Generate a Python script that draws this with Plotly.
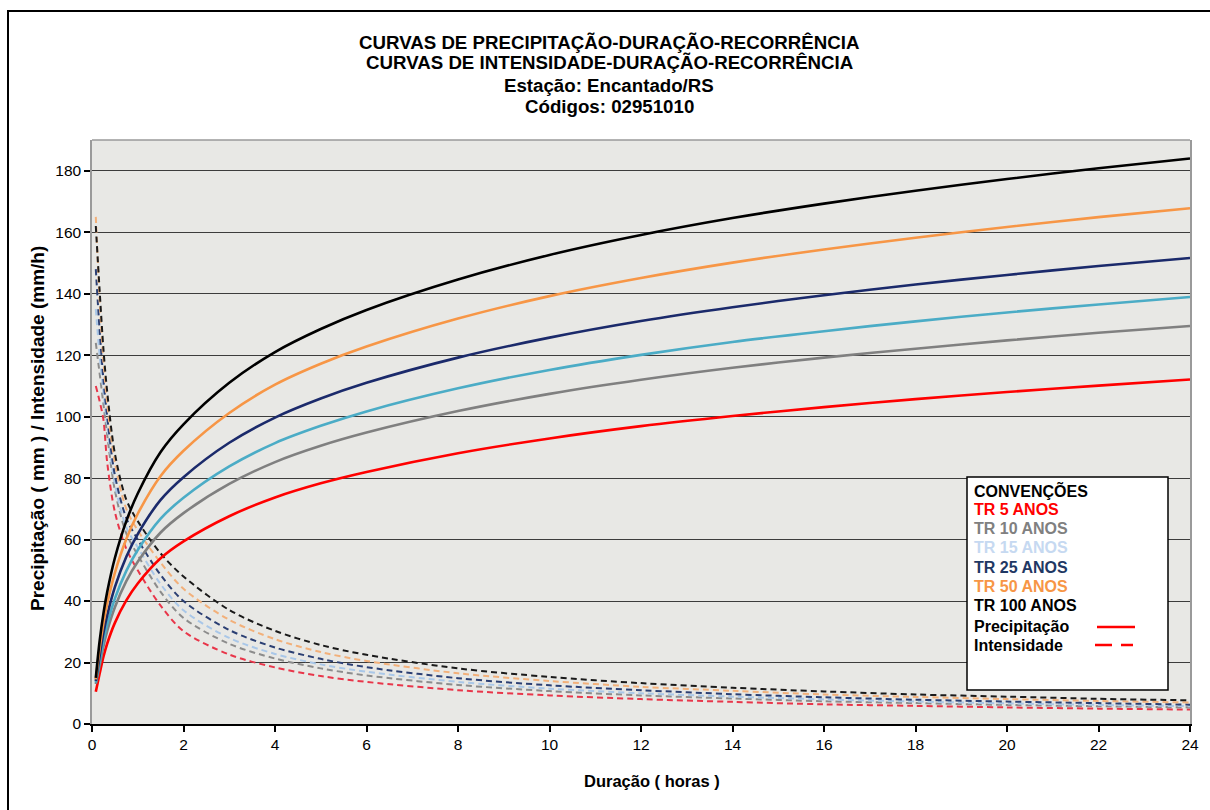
import plotly.graph_objects as go

# ---------------- data ----------------
durations_h = [0.083, 0.167, 0.25, 0.333, 0.5, 0.75, 1, 1.5, 2, 3, 4, 5, 6,
               8, 10, 12, 14, 16, 18, 20, 22, 24]

series_names = ["TR 5 ANOS", "TR 10 ANOS", "TR 15 ANOS", "TR 25 ANOS",
                "TR 50 ANOS", "TR 100 ANOS"]

# Precipitação (mm)
precip_tr5 = [10.5, 16.4, 21.9, 26.2, 32.9, 40.2, 45.7, 53.9, 59.4, 67.6, 73.7,
              78.3, 82.0, 88.1, 92.9, 96.9, 100.2, 103.1, 105.7, 108.0, 110.1, 112.1]
precip_tr10 = [13.0, 19.0, 25.3, 30.3, 38.0, 46.5, 52.8, 62.3, 68.6, 78.1, 85.2,
               90.5, 94.8, 101.8, 107.4, 112.0, 115.9, 119.2, 122.1, 124.8, 127.3, 129.5]
precip_tr15 = [13.5, 20.4, 27.2, 32.5, 40.8, 49.8, 56.6, 66.8, 73.6, 83.8, 91.4,
               97.0, 101.7, 109.2, 115.2, 120.1, 124.3, 127.8, 131.0, 133.9, 136.5, 138.9]
precip_tr25 = [14.0, 22.2, 29.7, 35.4, 44.5, 54.4, 61.8, 72.9, 80.3, 91.5, 99.7,
               105.9, 111.0, 119.2, 125.7, 131.1, 135.6, 139.5, 143.0, 146.1, 149.0, 151.6]
precip_tr50 = [14.5, 24.6, 32.8, 39.2, 49.2, 60.2, 68.4, 80.7, 88.9, 101.2, 110.4,
               117.2, 122.8, 131.9, 139.2, 145.1, 150.1, 154.4, 158.2, 161.7, 164.9, 167.8]
precip_tr100 = [15.0, 27.0, 36.0, 43.0, 54.0, 66.0, 75.0, 88.5, 97.5, 111.0, 121.0,
                128.5, 134.7, 144.6, 152.6, 159.1, 164.6, 169.3, 173.5, 177.3, 180.8, 184.0]

# Intensidade (mm/h)
intens_tr5 = [110, 105, 99, 85, 69, 57, 50, 38.5, 30.2, 22.6, 18.4, 15.6, 13.7,
              11.0, 9.3, 8.1, 7.2, 6.4, 5.9, 5.4, 5.0, 4.7]
intens_tr10 = [124, 114, 104, 94, 76, 62, 55, 43, 34.5, 26.1, 21.3, 18.1, 15.8,
               12.7, 10.7, 9.3, 8.3, 7.4, 6.8, 6.2, 5.8, 5.4]
intens_tr15 = [135, 120, 108, 97, 78, 64, 57.5, 45.5, 37, 28.0, 22.8, 19.4, 17.0,
               13.7, 11.5, 10.0, 8.9, 8.0, 7.3, 6.7, 6.2, 5.8]
intens_tr25 = [148, 128, 112, 100, 81, 67, 60, 48.5, 40, 30.6, 24.9, 21.2, 18.5,
               14.9, 12.6, 11.0, 9.7, 8.7, 7.9, 7.3, 6.8, 6.3]
intens_tr50 = [165, 138, 118, 104, 85, 70, 63, 52.5, 44, 33.9, 27.6, 23.4, 20.5,
               16.5, 14.0, 12.1, 10.8, 9.6, 8.8, 8.1, 7.5, 7.0]
intens_tr100 = [162, 141, 122, 108, 88, 73, 66, 55.5, 48, 37.1, 30.3, 25.7, 22.5,
                18.1, 15.3, 13.3, 11.8, 10.6, 9.6, 8.9, 8.2, 7.7]

x_ticks = [0, 2, 4, 6, 8, 10, 12, 14, 16, 18, 20, 22, 24]
y_ticks = [0, 20, 40, 60, 80, 100, 120, 140, 160, 180]

title_lines = ["CURVAS DE PRECIPITAÇÃO-DURAÇÃO-RECORRÊNCIA",
               "CURVAS DE INTENSIDADE-DURAÇÃO-RECORRÊNCIA",
               "Estação: Encantado/RS",
               "Códigos: 02951010"]

# ---------------- styles ----------------
solid_colors = ["#FF0000", "#808080", "#4BACC6", "#1B2A6B", "#F79646", "#000000"]
dash_colors = ["#E8364A", "#8C8C8C", "#A9C7E8", "#2B3F73", "#F2B07A", "#1A1A1A"]
legend_text_colors = ["#FF0000", "#808080", "#C6D9F1", "#1F3864", "#F79646", "#000000"]

precip_all = [precip_tr5, precip_tr10, precip_tr15, precip_tr25, precip_tr50, precip_tr100]
intens_all = [intens_tr5, intens_tr10, intens_tr15, intens_tr25, intens_tr50, intens_tr100]

W, H = 1210, 810
L, R, T, B = 92, 20, 140, 86
PW, PH = W - L - R, H - T - B


def px(x):
    return (x - L) / PW


def py(y):
    return (H - B - y) / PH


FONT = "Liberation Sans, Arial, Helvetica, sans-serif"

fig = go.Figure()

for name, vals, col in zip(series_names, intens_all, dash_colors):
    fig.add_trace(go.Scatter(x=durations_h, y=vals, mode="lines", name=name + " I",
                             line=dict(color=col, width=2, dash="6px,4px", shape="spline",
                                       smoothing=0.9),
                             showlegend=False))

for name, vals, col in zip(series_names, precip_all, solid_colors):
    fig.add_trace(go.Scatter(x=durations_h, y=vals, mode="lines", name=name + " P",
                             line=dict(color=col, width=2.6, shape="spline", smoothing=0.9),
                             showlegend=False))

shapes = []
shapes.append(dict(type="rect", xref="paper", yref="paper",
                   x0=px(8), x1=px(1216), y0=py(11), y1=py(816),
                   line=dict(color="#000000", width=2), layer="below"))
shapes.append(dict(type="line", xref="paper", yref="paper", x0=0, x1=1, y0=1, y1=1,
                   line=dict(color="#9A9A9A", width=1.5)))
shapes.append(dict(type="rect", xref="paper", yref="paper",
                   x0=px(967), x1=px(1168), y0=py(477), y1=py(690),
                   fillcolor="#FFFFFF", line=dict(color="#000000", width=1.5)))
shapes.append(dict(type="line", xref="paper", yref="paper",
                   x0=px(1097), x1=px(1135), y0=py(627), y1=py(627),
                   line=dict(color="#FF0000", width=2.5)))
shapes.append(dict(type="line", xref="paper", yref="paper",
                   x0=px(1095), x1=px(1133), y0=py(645), y1=py(645),
                   line=dict(color="#FF0000", width=2.5, dash="17px,9px")))

annotations = []
title_y = [42, 62, 85, 106]
for txt, yy in zip(title_lines, title_y):
    annotations.append(dict(text="<b>" + txt + "</b>", xref="paper", yref="paper",
                            x=px(609), y=py(yy), xanchor="center", yanchor="middle",
                            showarrow=False, font=dict(family=FONT, size=18.7, color="#000000")))

legend_lines = ["CONVENÇÕES"] + series_names + ["Precipitação", "Intensidade"]
legend_cols = ["#000000"] + legend_text_colors + ["#000000", "#000000"]
legend_y = [490, 509, 528, 547, 567, 586, 605, 626, 645]
for txt, col, yy in zip(legend_lines, legend_cols, legend_y):
    annotations.append(dict(text="<b>" + txt + "</b>", xref="paper", yref="paper",
                            x=px(972), y=py(yy), xanchor="left", yanchor="middle",
                            showarrow=False, font=dict(family=FONT, size=16, color=col)))

annotations.append(dict(text="<b>Duração ( horas )</b>", xref="paper", yref="paper",
                        x=px(652), y=py(781), xanchor="center", yanchor="middle",
                        showarrow=False, font=dict(family=FONT, size=16.5, color="#000000")))
annotations.append(dict(text="<b>Precipitação ( mm ) / Intensidade (mm/h)</b>",
                        xref="paper", yref="paper", x=px(37), y=py(429),
                        xanchor="center", yanchor="middle", textangle=-90,
                        showarrow=False, font=dict(family=FONT, size=19, color="#000000")))

fig.update_layout(
    width=W, height=H,
    margin=dict(l=L, r=R, t=T, b=B),
    paper_bgcolor="#FFFFFF",
    plot_bgcolor="#E8E8E5",
    font=dict(family=FONT, size=15.5, color="#000000"),
    shapes=shapes,
    annotations=annotations,
    showlegend=False,
    xaxis=dict(range=[0, 24], tickvals=x_ticks, ticktext=[str(v) for v in x_ticks],
               showgrid=False, zeroline=False, showline=True, linecolor="#000000",
               linewidth=1.5, ticks="outside", ticklen=6, tickcolor="#000000",
               tickwidth=1.5, tickfont=dict(family=FONT, size=15.5, color="#000000")),
    yaxis=dict(range=[0, 190], tickvals=y_ticks, ticktext=[str(v) for v in y_ticks],
               showgrid=True, gridcolor="#3C3C3C", gridwidth=1.3, zeroline=False,
               showline=True, linecolor="#9A9A9A", linewidth=1.5, mirror=True,
               ticks="outside", ticklen=6, tickcolor="#000000", tickwidth=1.5,
               tickfont=dict(family=FONT, size=15.5, color="#000000")),
)

fig.write_html("out.html", config={"displayModeBar": False},
               post_script="document.body.style.margin='0';document.body.style.padding='0';"
                           "document.body.style.overflow='hidden';")
